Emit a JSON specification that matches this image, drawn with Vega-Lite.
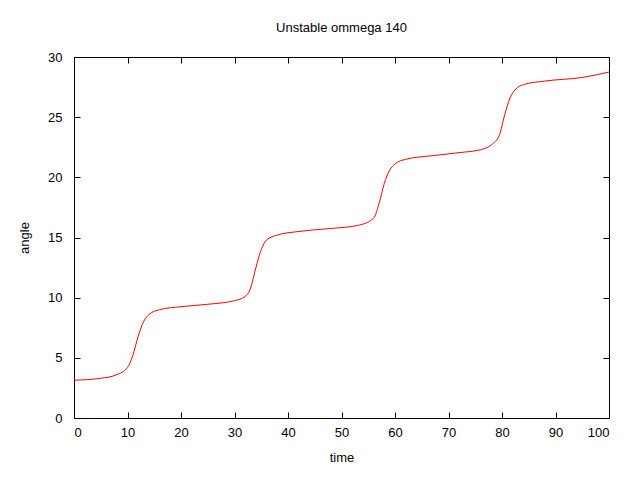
{
  "$schema": "https://vega.github.io/schema/vega-lite/v6.json",
  "autosize": "none",
  "width": 535,
  "height": 361,
  "padding": {"left": 74, "top": 57, "right": 31, "bottom": 62},
  "background": "white",
  "title": {"text": "Unstable ommega 140", "fontWeight": "normal", "fontSize": 13, "font": "Liberation Sans", "offset": 16, "color": "black"},
  "config": {
    "view": {"stroke": "black", "strokeWidth": 1},
    "axis": {"grid": false, "domain": false, "tickColor": "black", "tickSize": -6, "labelFont": "Liberation Sans", "labelFontSize": 13, "labelColor": "black", "titleFont": "Liberation Sans", "titleFontSize": 13, "titleFontWeight": "normal", "titleColor": "black"}
  },
  "data": {
    "values": [
      {"time": 0, "angle": 3.14}, {"time": 5, "angle": 3.3}, {"time": 8, "angle": 3.6},
      {"time": 10, "angle": 4.2}, {"time": 11, "angle": 5.2}, {"time": 12, "angle": 6.8},
      {"time": 13, "angle": 8.0}, {"time": 14, "angle": 8.6}, {"time": 16, "angle": 9.0},
      {"time": 20, "angle": 9.25}, {"time": 25, "angle": 9.45}, {"time": 30, "angle": 9.75},
      {"time": 32, "angle": 10.1}, {"time": 33, "angle": 10.8}, {"time": 34, "angle": 12.5},
      {"time": 35, "angle": 14.0}, {"time": 36, "angle": 14.8}, {"time": 38, "angle": 15.2},
      {"time": 42, "angle": 15.5}, {"time": 48, "angle": 15.75}, {"time": 53, "angle": 16.0},
      {"time": 56, "angle": 16.6}, {"time": 57, "angle": 17.8}, {"time": 58, "angle": 19.5},
      {"time": 59, "angle": 20.6}, {"time": 60, "angle": 21.1}, {"time": 62, "angle": 21.5},
      {"time": 67, "angle": 21.8}, {"time": 72, "angle": 22.05}, {"time": 76, "angle": 22.3},
      {"time": 78, "angle": 22.7}, {"time": 79.5, "angle": 23.5}, {"time": 80.5, "angle": 25.2},
      {"time": 81.5, "angle": 26.6}, {"time": 82.5, "angle": 27.3}, {"time": 84, "angle": 27.7},
      {"time": 88, "angle": 28.0}, {"time": 95, "angle": 28.3}, {"time": 100, "angle": 28.75}
    ]
  },
  "layer": [
    {
      "mark": {"type": "line", "color": "red", "strokeWidth": 1, "interpolate": "monotone"},
      "encoding": {
        "x": {"field": "time", "type": "quantitative", "scale": {"domain": [0, 100], "nice": false}, "axis": {"title": "time", "tickCount": 10, "labelPadding": 14, "titlePadding": 12}},
        "y": {"field": "angle", "type": "quantitative", "scale": {"domain": [0, 30], "nice": false}, "axis": {"title": "angle", "tickCount": 6, "labelPadding": 18, "titlePadding": 16}}
      }
    },
    {
      "mark": {"type": "line", "opacity": 0},
      "encoding": {
        "x": {"field": "time", "type": "quantitative", "scale": {"domain": [0, 100], "nice": false}, "axis": {"orient": "top", "labels": false, "title": null, "tickCount": 10}},
        "y": {"field": "angle", "type": "quantitative", "scale": {"domain": [0, 30], "nice": false}, "axis": {"orient": "right", "labels": false, "title": null, "tickCount": 6}}
      }
    }
  ],
  "resolve": {"axis": {"x": "independent", "y": "independent"}}
}
